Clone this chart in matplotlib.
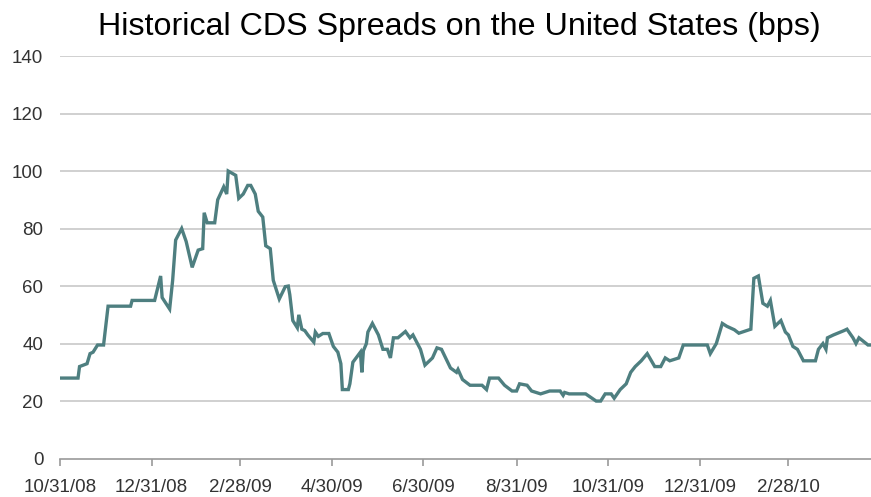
import matplotlib
matplotlib.use("Agg")
import matplotlib.pyplot as plt
import numpy as np
import pandas as pd

# CDS spread readings (bps).
dates = [
    "2008-10-31", "2008-11-12", "2008-11-13", "2008-11-18", "2008-11-20",
    "2008-11-22", "2008-11-25", "2008-11-29", "2008-12-02", "2008-12-17",
    "2008-12-18", "2009-01-02", "2009-01-06", "2009-01-07", "2009-01-12",
    "2009-01-14", "2009-01-16", "2009-01-20", "2009-01-23", "2009-01-27",
    "2009-01-31", "2009-02-03", "2009-02-04", "2009-02-06", "2009-02-11",
    "2009-02-13", "2009-02-17", "2009-02-19", "2009-02-20", "2009-02-25",
    "2009-02-27", "2009-03-02", "2009-03-05", "2009-03-07", "2009-03-10",
    "2009-03-12", "2009-03-15", "2009-03-17", "2009-03-20", "2009-03-22",
    "2009-03-26", "2009-03-30", "2009-04-01", "2009-04-02", "2009-04-04",
    "2009-04-07", "2009-04-08", "2009-04-10", "2009-04-12", "2009-04-14",
    "2009-04-18", "2009-04-19", "2009-04-21", "2009-04-24", "2009-04-28",
    "2009-05-01", "2009-05-04", "2009-05-06", "2009-05-07", "2009-05-11",
    "2009-05-12", "2009-05-14", "2009-05-19", "2009-05-20", "2009-05-21",
    "2009-05-23", "2009-05-24", "2009-05-27", "2009-05-31", "2009-06-03",
    "2009-06-06", "2009-06-08", "2009-06-10", "2009-06-13", "2009-06-18",
    "2009-06-21", "2009-06-23", "2009-06-28", "2009-07-01", "2009-07-06",
    "2009-07-09", "2009-07-12", "2009-07-18", "2009-07-22", "2009-07-23",
    "2009-07-26", "2009-07-31", "2009-08-08", "2009-08-11", "2009-08-13",
    "2009-08-19", "2009-08-23", "2009-08-28", "2009-08-31", "2009-09-02",
    "2009-09-07", "2009-09-10", "2009-09-16", "2009-09-22", "2009-09-29",
    "2009-10-01", "2009-10-02", "2009-10-05", "2009-10-16", "2009-10-23",
    "2009-10-26", "2009-10-29", "2009-11-02", "2009-11-04", "2009-11-08",
    "2009-11-12", "2009-11-15", "2009-11-18", "2009-11-22", "2009-11-26",
    "2009-12-01", "2009-12-05", "2009-12-08", "2009-12-11", "2009-12-17",
    "2009-12-20", "2010-01-05", "2010-01-07", "2010-01-11", "2010-01-15",
    "2010-01-18", "2010-01-23", "2010-01-26", "2010-02-03", "2010-02-05",
    "2010-02-08", "2010-02-11", "2010-02-14", "2010-02-16", "2010-02-19",
    "2010-02-23", "2010-02-26", "2010-02-28", "2010-03-03", "2010-03-06",
    "2010-03-10", "2010-03-18", "2010-03-20", "2010-03-23", "2010-03-25",
    "2010-03-26", "2010-03-30", "2010-04-06", "2010-04-08", "2010-04-12",
    "2010-04-14", "2010-04-16", "2010-04-22", "2010-04-24",
]
spreads = [
    28, 28, 32, 33, 36.5,
    37, 39.5, 39.5, 53, 53,
    55, 55, 63.5, 56, 52,
    62, 76, 80, 75.5, 66.5,
    72.5, 73, 85.5, 82, 82,
    90, 94.5, 92, 100, 98.5,
    90.5, 92, 95, 95, 92,
    86, 84, 74, 73, 62,
    55.5, 59.8, 60, 57, 48,
    45.5, 50, 45, 44.5, 43,
    40.5, 44, 42.5, 43.5, 43.5,
    39, 37, 33, 24, 24,
    26, 33.5, 37, 30, 37.5,
    40, 44, 47, 43, 38,
    38, 35, 42, 42, 44.2,
    42, 43, 38, 32.5, 35,
    38.5, 38, 31.5, 30, 31,
    27.5, 25.5, 25.5, 24, 28,
    28, 25.5, 23.5, 23.5, 26,
    25.5, 23.5, 22.5, 23.5, 23.5,
    22, 23, 22.5, 22.5, 20,
    20, 22.5, 22.5, 21, 24,
    26, 30, 32, 34, 36.5,
    32, 32, 35, 34, 35,
    39.5, 39.5, 36.5, 40, 47,
    46, 44.8, 43.6, 45, 62.7,
    63.5, 54, 53, 55, 46,
    48, 44, 43, 39, 38,
    34, 34, 38, 40, 38,
    42, 43, 44.5, 45, 42,
    40, 42, 39.5, 39.5,
]

tick_dates = ["2008-10-31", "2008-12-31", "2009-02-28", "2009-04-30",
              "2009-06-30", "2009-08-31", "2009-10-31", "2009-12-31",
              "2010-02-28"]
y_ticks = [0, 20, 40, 60, 80, 100, 120, 140]

title = "Historical CDS Spreads on the United States (bps)"


def main():
    x = pd.to_datetime(dates)
    ticks = pd.to_datetime(tick_dates)

    fig = plt.figure(figsize=(8.71, 4.97), dpi=100)
    ax = fig.add_axes([0.0689, 0.0773, 0.9311, 0.81])

    tick_font = {"family": "Liberation Sans", "size": 13.5}

    for y in y_ticks[1:]:
        ax.axhline(y, color="#c8c8c8", linewidth=1.2, zorder=1)

    ax.plot(x, spreads, color="#4e7f80", linewidth=2.4, zorder=3,
            solid_joinstyle="miter")

    ax.set_ylim(0, 140)
    ax.set_xlim(pd.Timestamp("2008-10-31"), pd.Timestamp("2010-04-24"))

    for side in ["left", "right", "top"]:
        ax.spines[side].set_visible(False)
    ax.spines["bottom"].set_color("#9a9a9a")
    ax.spines["bottom"].set_linewidth(1.2)

    ax.set_yticks(y_ticks)
    ax.set_yticklabels([str(v) for v in y_ticks], fontdict=tick_font,
                       color="#333333")
    ax.tick_params(axis="y", length=0, pad=12)

    ax.set_xticks(ticks)
    ax.set_xticklabels([d.strftime("%-m/%-d/%y") for d in ticks],
                       fontdict=tick_font, color="#333333")
    ax.tick_params(axis="x", length=5, width=1.2, color="#9a9a9a",
                   direction="out", pad=10)

    fig.text(0.527, 0.976, title, ha="center", va="top",
             fontsize=23.2, family="Liberation Sans", color="black")

    fig.savefig("out.png", dpi=100)


if __name__ == "__main__":
    main()
